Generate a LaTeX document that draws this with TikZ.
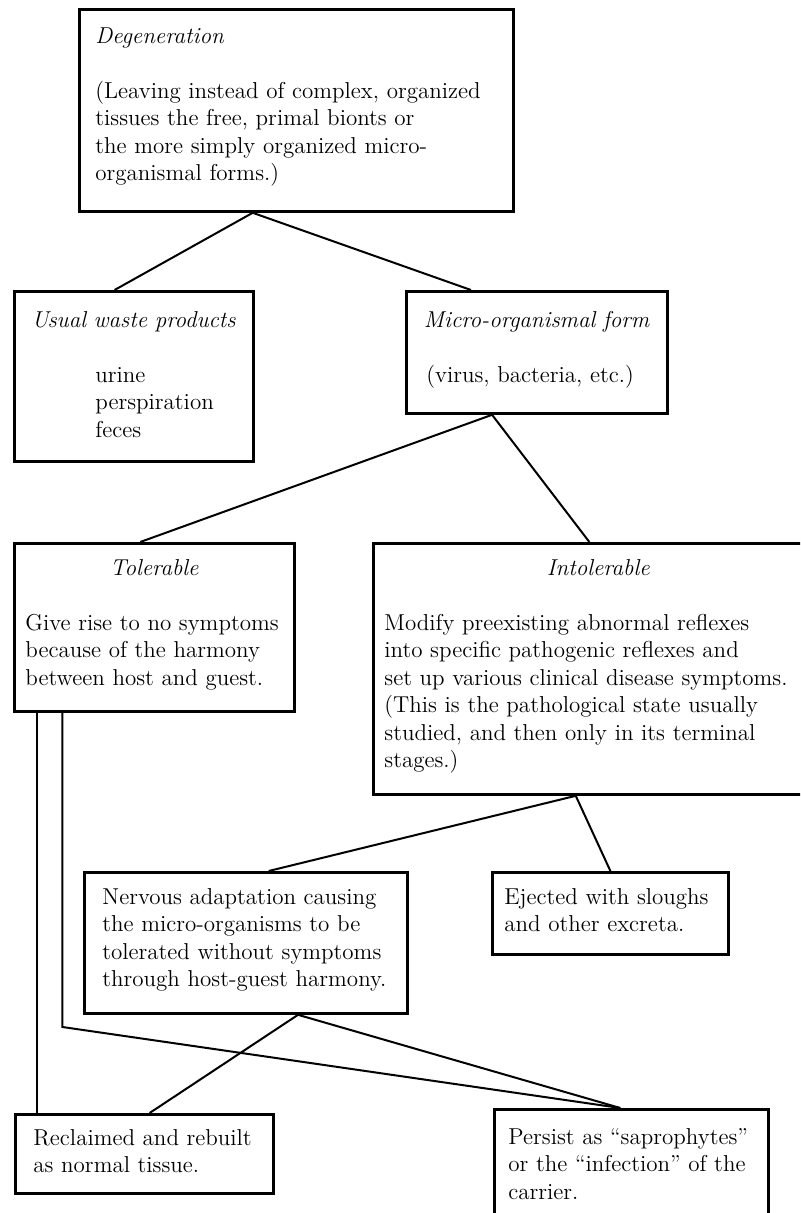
\documentclass[tikz,border=0pt]{standalone}
\usepackage{tikz}
\usetikzlibrary{calc}

\begin{document}
\begin{tikzpicture}[
    x=0.5pt,y=-0.5pt,
    box/.style  = {draw, line width=1.4pt, anchor=north west, align=left,
                   inner ysep=0pt, font=\fontsize{11.5}{13.75}\selectfont},
    link/.style = {line width=1pt},
  ]

  % ── Page ────────────────────────────────────────────────────────────────
  \useasboundingbox (0,0) rectangle (800,1213);
  \clip (0,0) rectangle (800,1213);

  % ── Boxes ───────────────────────────────────────────────────────────────
  \node[box, inner xsep=8pt, text width=201pt, text height=17pt, text depth=84pt]
       (deg) at (78,8)
       {\textit{Degeneration}\\[\baselineskip]
        (Leaving instead of complex, organized\\
        tissues the free, primal bionts or\\
        the more simply organized micro-\\
        organismal forms.)};

  \node[box, inner xsep=9pt, text width=101.5pt, text height=18pt, text depth=67pt]
       (waste) at (13,290)
       {\makebox[\linewidth]{\textit{Usual waste products}}\\[\baselineskip]
        \hspace*{31.5pt}urine\\
        \hspace*{31.5pt}perspiration\\
        \hspace*{31.5pt}feces};

  \node[box, inner xsep=10pt, text width=110.5pt, text height=18pt, text depth=43pt]
       (micro) at (405,290)
       {\makebox[\linewidth]{\textit{Micro-organismal form}}\\[\baselineskip]
        (virus, bacteria, etc.)};

  \node[box, inner xsep=5.5pt, text width=129pt, text height=16pt, text depth=68pt]
       (tol) at (13,542)
       {\makebox[\linewidth]{\textit{Tolerable}}\\[\baselineskip]
        Give rise to no symptoms\\
        because of the harmony\\
        between host and guest.};

  \node[box, inner xsep=5.5pt, text width=214pt, text height=16pt, text depth=109.5pt]
       (intol) at (372,542)
       {\makebox[\linewidth]{\textit{Intolerable}}\\[\baselineskip]
        Modify preexisting abnormal reflexes\\
        into specific pathogenic reflexes and\\
        set up various clinical disease symptoms.\\
        (This is the pathological state usually\\
        studied, and then only in its terminal\\
        stages.)};

  \node[box, inner xsep=9pt, text width=143.5pt, text height=16pt, text depth=54.5pt]
       (nerv) at (83,871)
       {Nervous adaptation causing\\
        the micro-organisms to be\\
        tolerated without symptoms\\
        through host-guest harmony.};

  \node[box, inner xsep=6pt, text width=106pt, text height=16pt, text depth=25pt]
       (eject) at (491,871)
       {Ejected with sloughs\\
        and other excreta.};

  \node[box, inner xsep=9pt, text width=111pt, text height=15.5pt, text depth=24pt]
       (recl) at (14,1113)
       {Reclaimed and rebuilt\\
        as normal tissue.};

  \node[box, inner xsep=7pt, text width=123pt, text height=17.5pt, text depth=43.5pt]
       (pers) at (493,1108)
       {Persist as ``saprophytes''\\
        or the ``infection'' of the\\
        carrier.};

  % ── Joints on the box edges ─────────────────────────────────────────────
  \coordinate (degB)   at ($(deg.south west)!0.40!(deg.south east)$);
  \coordinate (microB) at ($(micro.south west)!0.33!(micro.south east)$);
  \coordinate (intolB) at ($(intol.south west)!0.45!(intol.south east)$);
  \coordinate (nervB)  at ($(nerv.south west)!0.66!(nerv.south east)$);
  \coordinate (persT)  at ($(pers.north west)!0.46!(pers.north east)$);
  \coordinate (tolL)   at ($(tol.south west)!0.086!(tol.south east)$);
  \coordinate (tolR)   at ($(tol.south west)!0.175!(tol.south east)$);
  \coordinate (bend)   at (tolR |- 0,1027);

  % ── Links ───────────────────────────────────────────────────────────────
  \draw[link] (degB) -- ($(waste.north west)!0.42!(waste.north east)$);
  \draw[link] (degB) -- ($(micro.north west)!0.25!(micro.north east)$);

  \draw[link] (microB) -- ($(tol.north west)!0.45!(tol.north east)$);
  \draw[link] (microB) -- ($(intol.north west)!0.48!(intol.north east)$);

  \draw[link] (intolB) -- ($(nerv.north west)!0.57!(nerv.north east)$);
  \draw[link] (intolB) -- (eject.north);

  \draw[link] (tolL) -- (tolL |- recl.north);
  \draw[link] (tolR) -- (bend) -- (persT);

  \draw[link] (nervB) -- ($(recl.north west)!0.52!(recl.north east)$);
  \draw[link] (nervB) -- (persT);

\end{tikzpicture}
\end{document}
